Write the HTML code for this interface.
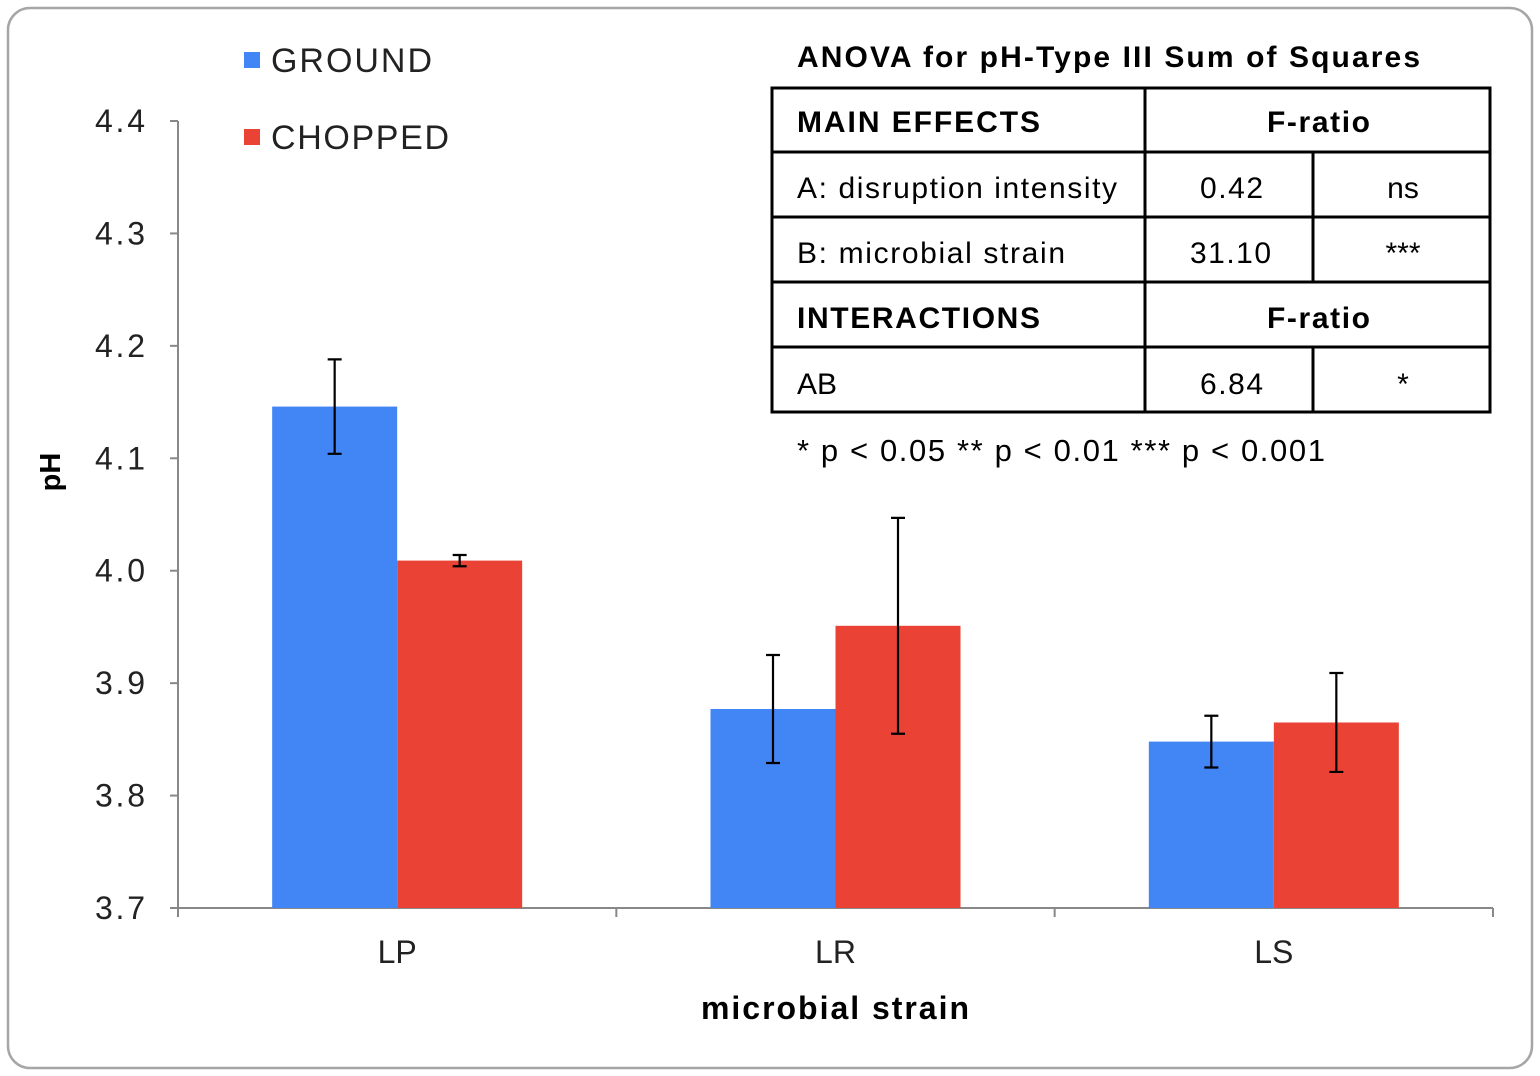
<!DOCTYPE html>
<html><head><meta charset="utf-8">
<style>
body{margin:0;background:#fff;}
svg{display:block;font-family:"Liberation Sans",Arial,sans-serif;}
</style></head>
<body>
<svg id="chart" width="1540" height="1076" viewBox="0 0 1540 1076">
<rect x="8" y="8" width="1524" height="1060" rx="22" fill="#fff" stroke="#a6a6a6" stroke-width="2.5"/>
<g id="axes"></g>
<g id="bars"></g>
<g id="errs"></g>
<text x="60" y="472" font-size="29" font-weight="bold" transform="rotate(-90 60 472)" text-anchor="middle">pH</text>
<text x="701" y="1019" font-size="32" font-weight="bold" textLength="268" lengthAdjust="spacing">microbial strain</text>
<g>
<rect x="244" y="52" width="16" height="16" fill="#4285f4"/>
<text x="271" y="72" font-size="34" fill="#222" textLength="161" lengthAdjust="spacing">GROUND</text>
<rect x="244" y="129" width="16" height="16" fill="#ea4335"/>
<text x="271" y="149" font-size="34" fill="#222" textLength="178" lengthAdjust="spacing">CHOPPED</text>
</g>
<g font-size="30" fill="#000">
<text x="797" y="67" font-size="30" font-weight="bold" textLength="623" lengthAdjust="spacing">ANOVA for pH-Type III Sum of Squares</text>
<rect x="772" y="88" width="718" height="324" fill="none" stroke="#000" stroke-width="3"/>
<g stroke="#000" stroke-width="3">
<line x1="772" y1="152" x2="1490" y2="152"/><line x1="772" y1="217" x2="1490" y2="217"/>
<line x1="772" y1="282" x2="1490" y2="282"/><line x1="772" y1="347" x2="1490" y2="347"/>
<line x1="1145" y1="88" x2="1145" y2="412"/>
<line x1="1313" y1="152" x2="1313" y2="282"/><line x1="1313" y1="347" x2="1313" y2="412"/>
</g>
<text x="797" y="132" font-weight="bold" textLength="243" lengthAdjust="spacing">MAIN EFFECTS</text>
<text x="1267" y="132" font-weight="bold" textLength="103" lengthAdjust="spacing">F-ratio</text>
<text x="797" y="198" textLength="320" lengthAdjust="spacing">A: disruption intensity</text>
<text x="1200" y="198" textLength="63" lengthAdjust="spacing">0.42</text>
<text x="1403" y="198" text-anchor="middle">ns</text>
<text x="797" y="263" textLength="268" lengthAdjust="spacing">B: microbial strain</text>
<text x="1190" y="263" textLength="81" lengthAdjust="spacing">31.10</text>
<text x="1403" y="263" text-anchor="middle">***</text>
<text x="797" y="328" font-weight="bold" textLength="243" lengthAdjust="spacing">INTERACTIONS</text>
<text x="1267" y="328" font-weight="bold" textLength="103" lengthAdjust="spacing">F-ratio</text>
<text x="797" y="394">AB</text>
<text x="1200" y="394" textLength="63" lengthAdjust="spacing">6.84</text>
<text x="1403" y="394" text-anchor="middle">*</text>
<text x="797" y="461" font-size="31" textLength="528" lengthAdjust="spacing">* p &lt; 0.05   ** p &lt; 0.01   *** p &lt; 0.001</text>
</g>
</svg>
<script>
const categories=["LP","LR","LS"];
const groundVals=[4.146,3.877,3.848];
const choppedVals=[4.009,3.951,3.865];
const groundErr=[0.042,0.048,0.023];
const choppedErr=[0.005,0.096,0.044];
const yTicks=[3.7,3.8,3.9,4.0,4.1,4.2,4.3,4.4];
const NS="http://www.w3.org/2000/svg";
const x0=178,x1=1493,yB=908,yT=121,yMin=3.7,yMax=4.4;
const y=v=>yB-(v-yMin)/(yMax-yMin)*(yB-yT);
const band=(x1-x0)/categories.length;
function mk(tag,attrs,parent){const e=document.createElementNS(NS,tag);for(const k in attrs)e.setAttribute(k,attrs[k]);document.getElementById(parent).appendChild(e);return e;}
let a=mk("line",{x1:x0,y1:yT,x2:x0,y2:yB,stroke:"#888","stroke-width":2},"axes");


a=mk("line",{x1:x0,y1:yB,x2:x1,y2:yB,stroke:"#888","stroke-width":2},"axes");


yTicks.forEach(t=>{
 mk("line",{x1:x0-8,y1:y(t),x2:x0,y2:y(t),stroke:"#888","stroke-width":2},"axes");
 const tx=mk("text",{x:95,y:y(t)+11,"font-size":32,fill:"#222",textLength:50,lengthAdjust:"spacing"},"axes");
 tx.textContent=t.toFixed(1);
 
 
});
for(let i=0;i<=categories.length;i++)mk("line",{x1:x0+i*band,y1:yB,x2:x0+i*band,y2:yB+9,stroke:"#888","stroke-width":2},"axes");
const bw=125;
categories.forEach((c,i)=>{
 const cx=x0+band*(i+0.5);
 const tx=mk("text",{x:cx,y:963,"font-size":32,"text-anchor":"middle",fill:"#222"},"axes");
 tx.textContent=c;
 
 
 [[groundVals,groundErr,"#4285f4",cx-bw,"ground"],[choppedVals,choppedErr,"#ea4335",cx,"chopped"]].forEach(([vals,errs,col,bx,nm])=>{
  const r=mk("rect",{x:bx,y:y(vals[i]),width:bw,height:yB-y(vals[i]),fill:col},"bars");
  
  
  const ex=bx+bw/2,t=y(vals[i]+errs[i]),b=y(vals[i]-errs[i]);
  const g=mk("path",{d:`M${ex},${t}V${b}M${ex-7},${t}H${ex+7}M${ex-7},${b}H${ex+7}`,stroke:"#000","stroke-width":2.2,fill:"none"},"errs");
  
  
 });
});
</script>
</body></html>
